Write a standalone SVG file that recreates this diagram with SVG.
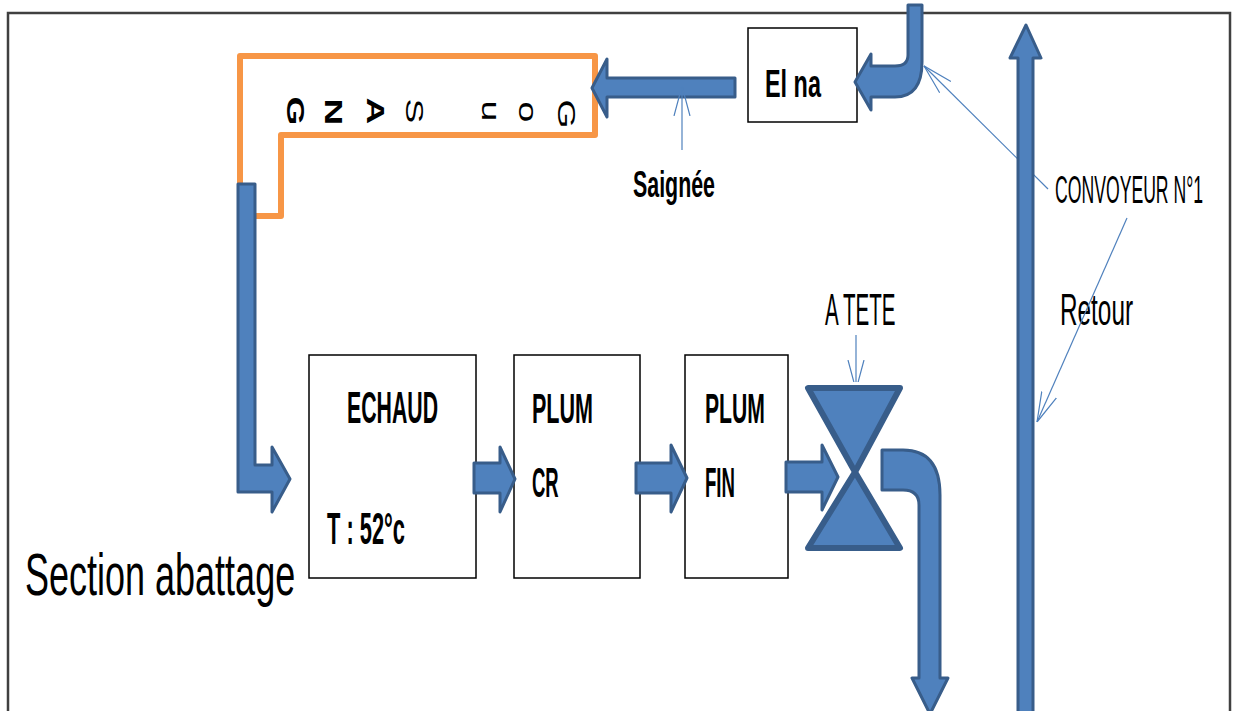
<svg xmlns="http://www.w3.org/2000/svg" width="1233" height="711" viewBox="0 0 1233 711">
<style>
.box{fill:#fff;stroke:#000;stroke-width:1.5}
.blue{fill:#4F81BD;stroke:#385D8A;stroke-width:3;stroke-linejoin:round}
.call{stroke:#4F81BD;stroke-width:1.2;fill:none;marker-end:url(#open)}
.b{font-family:"Liberation Sans",Arial,sans-serif;font-weight:bold;fill:#000}
.r{font-family:"Liberation Sans",Arial,sans-serif;font-weight:normal;fill:#000}
</style>
<defs>
<marker id="open" markerUnits="userSpaceOnUse" markerWidth="30" markerHeight="20" viewBox="0 0 30 20" refX="30" refY="10" orient="auto">
<path d="M0,2 L30,10 L0,18" fill="none" stroke="#4F81BD" stroke-width="1.2"/>
</marker>
</defs>
<rect width="1233" height="711" fill="#fff"/>
<path id="frame" d="M8,711 V13 H1230 V711" fill="none" stroke="#404040" stroke-width="2.5"/>

<g id="gousang">
<path d="M240,216 L240,56 L595,56 L595,135 L281,135 L281,216 Z" fill="none" stroke="#F79646" stroke-width="6" stroke-linejoin="round"/>
<text class="b" font-size="24" text-anchor="middle" transform="translate(287,111) rotate(90) scale(1.55,1)">G</text>
<text class="b" font-size="24" text-anchor="middle" transform="translate(325,112) rotate(90) scale(1.55,1)">N</text>
<text class="b" font-size="24" text-anchor="middle" transform="translate(367,111) rotate(90) scale(1.55,1)">A</text>
<text class="r" font-size="24" text-anchor="middle" transform="translate(406,111) rotate(90) scale(1.55,1)">S</text>
<text class="r" font-size="25" text-anchor="middle" transform="translate(482,111) rotate(90) scale(1.5,1)">u</text>
<text class="r" font-size="25" text-anchor="middle" transform="translate(519,112) rotate(90) scale(1.5,1)">o</text>
<text class="r" font-size="24" text-anchor="middle" transform="translate(558,114) rotate(90) scale(1.55,1)">G</text>
</g>

<g id="el-na">
<rect class="box" x="748" y="28" width="109" height="94"/>
<text class="b" font-size="39" transform="translate(765,97) scale(0.6,1)">El na</text>
</g>

<g id="echaud">
<rect class="box" x="309" y="355" width="167" height="223"/>
<text class="b" font-size="45" transform="translate(347,423) scale(0.473,1)">ECHAUD</text>
<text class="b" font-size="45" transform="translate(327,544) scale(0.486,1)">T : 52°c</text>
</g>

<g id="plum-cr">
<rect class="box" x="514" y="355" width="126" height="223"/>
<text class="b" font-size="42" transform="translate(532,423) scale(0.513,1)">PLUM</text>
<text class="b" font-size="42" transform="translate(532,497) scale(0.44,1)">CR</text>
</g>

<g id="plum-fin">
<rect class="box" x="685" y="355" width="103" height="223"/>
<text class="b" font-size="42" transform="translate(705,423) scale(0.504,1)">PLUM</text>
<text class="b" font-size="42" transform="translate(705,497) scale(0.443,1)">FIN</text>
</g>

<g id="labels">
<text class="b" font-size="37" transform="translate(633,197) scale(0.578,1)">Saignée</text>
<text class="r" font-size="45" transform="translate(825,325) scale(0.457,1)">A TETE</text>
<text class="r" font-size="38" transform="translate(1055,203) scale(0.464,1)">CONVOYEUR N°1</text>
<text class="r" font-size="45" transform="translate(1060,325) scale(0.541,1)">Retour</text>
<text class="r" font-size="60" transform="translate(25,595) scale(0.6,1)">Section abattage</text>
</g>

<g id="connectors">
<line class="call" x1="1048" y1="189" x2="924" y2="66"/>
<line class="call" x1="1127" y1="218" x2="1037" y2="422"/>
<polygon class="blue" points="1018,713 1018,58 1010,58 1026,25 1041,58 1033,58 1033,713"/>
<polygon class="blue" points="735,78 607,78 607,59 592,88 607,117 607,97 735,97"/>
<path class="blue" d="M908,5 L922,5 L922,62 Q922,97 895,97 L871,97 L871,110 L855,82 L871,54 L871,66 L895,66 Q908,66 908,55 Z"/>
<polygon class="blue" points="238,184 255,184 255,465 272,465 272,447 290,479 272,512 272,492 238,492"/>
<polygon class="blue" points="474,463 500,463 500,447 515,479 500,512 500,493 474,493"/>
<polygon class="blue" points="636,463 671,463 671,445 687,478 671,512 671,493 636,493"/>
<polygon class="blue" points="786,462 822,462 822,445 838,477 822,510 822,492 786,492"/>
<path class="blue" d="M882,450 L903,450 Q940,450 940,495 L940,678 L948,678 L930,714 L912,678 L919,678 L919,505 Q919,490 903,490 L882,490 Z"/>
<line class="call" x1="682" y1="150" x2="682" y2="86"/>
<line class="call" x1="856" y1="335" x2="856" y2="390"/>
</g>

<g id="valve">
<path d="M808,388 L900,388 L855,472 Z M855,472 L900,548 L808,548 Z" fill="none" stroke="#fff" stroke-width="12" stroke-linejoin="round"/>
<path d="M808,388 L900,388 L855,472 Z M855,472 L900,548 L808,548 Z" fill="#4F81BD" stroke="#385D8A" stroke-width="6" stroke-linejoin="round"/>
</g>
</svg>
